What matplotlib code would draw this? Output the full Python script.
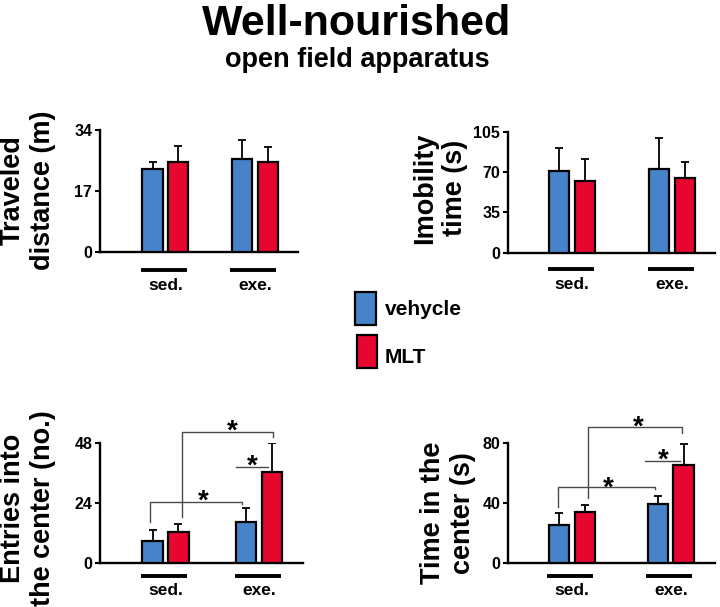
import matplotlib
matplotlib.use("Agg")
import matplotlib.pyplot as plt
from matplotlib.patches import Rectangle
from matplotlib.transforms import ScaledTranslation
import numpy as np

plt.rcParams['font.family'] = ['Liberation Sans', 'DejaVu Sans']
plt.rcParams['font.weight'] = 'bold'

# ---------------- data ----------------
groups = ["sed.", "exe."]
series = ["vehycle", "MLT"]

dist_veh = [23.0, 25.8]
dist_veh_err = [2.2, 5.5]
dist_mlt = [25.0, 25.0]
dist_mlt_err = [4.6, 4.3]
dist_ticks = [0, 17, 34]

imob_veh = [70.6, 72.4]
imob_veh_err = [20.0, 27.0]
imob_mlt = [62.2, 64.6]
imob_mlt_err = [19.4, 14.4]
imob_ticks = [0, 35, 70, 105]

entr_veh = [9.0, 16.6]
entr_veh_err = [4.3, 5.4]
entr_mlt = [12.4, 36.4]
entr_mlt_err = [3.3, 11.8]
entr_ticks = [0, 24, 48]

tcen_veh = [25.4, 39.1]
tcen_veh_err = [7.8, 5.5]
tcen_mlt = [34.2, 65.2]
tcen_mlt_err = [4.5, 13.9]
tcen_ticks = [0, 40, 80]

BLUE = '#4683C8'
RED = '#E6062F'

W, H = 720, 607
fig = plt.figure(figsize=(W / 100, H / 100), dpi=100)


def fx(px):
    return px / W


def fy(py):
    return 1 - py / H


def make_axes(left, top, right, bottom):
    return fig.add_axes([fx(left), fy(bottom), fx(right - left), (bottom - top) / H])


def panel(ax, veh, veh_err, mlt, mlt_err, ticks, xlim, ylabel, label_xy,
          ul_px, txt_px):
    ax.set_xlim(*xlim)
    ax.set_ylim(ticks[0], ticks[-1])
    bbox = ax.get_position()
    ax_px = bbox.width * W
    upp = (xlim[1] - xlim[0]) / ax_px  # data units per pixel
    bw = 20.5 * upp
    off = 12.8 * upp
    x = np.arange(len(groups))
    for vals, errs, col, sgn in ((veh, veh_err, BLUE, -1), (mlt, mlt_err, RED, 1)):
        xp = x + sgn * off
        ax.errorbar(xp, vals, yerr=[np.zeros(len(vals)), errs], fmt='none',
                    ecolor='black', elinewidth=1.3, capsize=3.0, capthick=1.3,
                    zorder=2)
        ax.bar(xp, vals, width=bw, color=col, edgecolor='black', linewidth=1.6,
               zorder=3)
    for s in ('top', 'right'):
        ax.spines[s].set_visible(False)
    for s in ('left', 'bottom'):
        ax.spines[s].set_linewidth(1.7)
    ax.set_xticks([])
    ax.set_yticks(ticks)
    ax.set_yticklabels([str(t) for t in ticks])
    ax.tick_params(axis='y', length=3.5, width=1.5, direction='out', labelsize=11.5,
                   pad=2)
    trans = ax.get_xaxis_transform() + ScaledTranslation(0, -ul_px / 100,
                                                         fig.dpi_scale_trans)
    half = 23 * upp
    for i, g in enumerate(groups):
        ax.plot([i - half - 1.5 * upp, i + half - 1.5 * upp], [0, 0], color='black',
                lw=2.8, transform=trans, clip_on=False, solid_capstyle='butt')
        ax.annotate(g, xy=(i, 0), xycoords=('data', 'axes fraction'),
                    xytext=(0, -txt_px * 0.72), textcoords='offset points',
                    ha='center', va='center', fontsize=12.5, fontweight='bold')
    fig.text(fx(label_xy[0]), fy(label_xy[1]), ylabel, rotation=90, ha='center',
             va='center', multialignment='center', fontsize=19.5,
             fontweight='bold', linespacing=1.2)


def bracket(ax, pts, color='#4a4a4a'):
    xs, ys = zip(*pts)
    ax.plot(xs, ys, color=color, lw=1.0, clip_on=False, zorder=4)


def star(ax, x, y):
    ax.annotate('*', xy=(x, y), xycoords='data', xytext=(0, -11.5),
                textcoords='offset points', ha='center', va='baseline',
                fontsize=20, fontweight='bold', annotation_clip=False)


ax1 = make_axes(100, 130, 298, 252)
panel(ax1, dist_veh, dist_veh_err, dist_mlt, dist_mlt_err, dist_ticks,
      (-0.73, 1.48), "Traveled\ndistance (m)", (28, 190), 18, 33)

ax2 = make_axes(508, 131.7, 715, 252.7)
panel(ax2, imob_veh, imob_veh_err, imob_mlt, imob_mlt_err, imob_ticks,
      (-0.64, 1.43), "Imobility\ntime (s)", (440, 188), 16.6, 32)

ax3 = make_axes(100, 443.3, 303, 563.3)
panel(ax3, entr_veh, entr_veh_err, entr_mlt, entr_mlt_err, entr_ticks,
      (-0.70, 1.47), "Entries into\nthe center (no.)", (28, 508), 12.7, 27)

ax4 = make_axes(508, 442.7, 715, 563.3)
panel(ax4, tcen_veh, tcen_veh_err, tcen_mlt, tcen_mlt_err, tcen_ticks,
      (-0.646, 1.445), "Time in the\ncenter (s)", (448, 513), 12.7, 27)

# significance brackets - entries into the center
bracket(ax3, [(-0.166, 16.6), (-0.166, 24.6), (0.815, 24.6), (0.815, 23.9)])
star(ax3, 0.40, 28.1)
bracket(ax3, [(0.173, 18.6), (0.173, 52.6), (1.15, 52.6), (1.15, 50.6)])
star(ax3, 0.71, 56.1)
bracket(ax3, [(0.754, 38.4), (1.096, 38.4)])
star(ax3, 0.925, 42.1)

# significance brackets - time in the center
bracket(ax4, [(-0.141, 37.3), (-0.141, 50.4), (0.838, 50.4), (0.838, 49.3)])
star(ax4, 0.364, 55.3)
bracket(ax4, [(0.159, 43.3), (0.159, 90.6), (1.108, 90.6), (1.108, 86.4)])
star(ax4, 0.667, 95.7)
bracket(ax4, [(0.737, 68.1), (1.09, 68.1)])
star(ax4, 0.919, 74.0)

# titles
fig.text(fx(357), fy(35), "Well-nourished", ha='center', va='baseline',
         fontsize=31, fontweight='bold')
fig.text(fx(357), fy(67), "open field apparatus", ha='center', va='baseline',
         fontsize=19.5, fontweight='bold')

# legend
for (x0, y0, x1, y1), col, lab, base in (((355, 292, 376, 325), BLUE, series[0], 315),
                                         ((357, 335, 377, 368), RED, series[1], 362.7)):
    fig.patches.append(Rectangle((fx(x0), fy(y1)), fx(x1 - x0), (y1 - y0) / H,
                                 transform=fig.transFigure, facecolor=col,
                                 edgecolor='black', linewidth=1.6))
    fig.text(fx(385), fy(base), lab, ha='left', va='baseline', fontsize=15,
             fontweight='bold')

fig.savefig("out.png", dpi=100)
